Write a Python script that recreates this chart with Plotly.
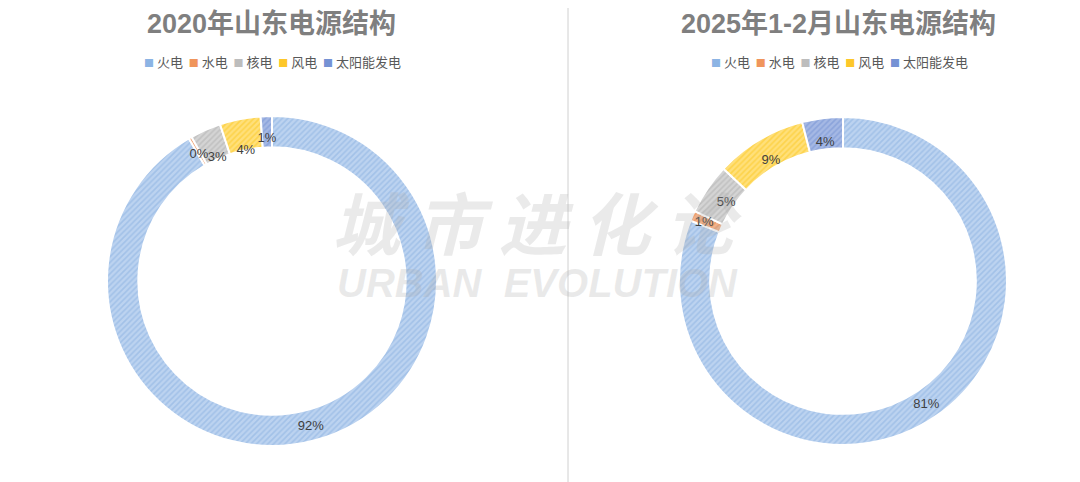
import plotly.graph_objects as go

labels = ["火电", "水电", "核电", "风电", "太阳能发电"]
values_2020 = [91.6, 0.3, 3.0, 4.0, 1.1]
values_2025 = [81, 1, 5, 9, 4]
titles = ["2020年山东电源结构", "2025年1-2月山东电源结构"]

bg_colors = ["#bcd3f0", "#f3b28a", "#d4d4d4", "#ffe07a", "#a5b8e4"]
fg_colors = ["#88afe0", "#e8884c", "#adadad", "#fbc51c", "#7290d2"]
legend_colors = ["#8cb4e4", "#f0955c", "#bdbdbd", "#fdc72a", "#7592d4"]

W, H, OFF = 1072, 474, 8


def px(X):
    return (X - OFF) / W


def py(Y):
    return 1 - (Y - OFF) / H


fig = go.Figure()


def dom(cx, cy, r):
    return dict(x=[px(cx - r), px(cx + r)], y=[py(cy + r), py(cy - r)])


def add_pie(vals, cx, cy, r, k):
    tf = dict(size=13, color="#404040", family="Liberation Sans, Arial")
    # ring with the label of the largest slice
    fig.add_trace(go.Pie(
        labels=labels, values=vals, sort=False, direction="clockwise", rotation=0,
        hole=0.81, domain=dom(cx, cy, r),
        marker=dict(colors=bg_colors, line=dict(color="white", width=2),
                    pattern=dict(shape="/", fillmode="overlay", fgcolor=fg_colors,
                                 size=4, solidity=0.4)),
        texttemplate=["%{percent:.0%}"] + [""] * (len(vals) - 1), textposition="inside",
        insidetextorientation="horizontal", textfont=tf,
        showlegend=False, hoverinfo="label+percent",
    ))
    # transparent overlay carrying the labels of the small slices, on top of all slices
    fig.add_trace(go.Pie(
        labels=labels, values=vals, sort=False, direction="clockwise", rotation=0,
        hole=0.81, domain=dom(cx, cy, r * k),
        marker=dict(colors=["rgba(0,0,0,0)"] * len(vals), line=dict(width=0)),
        texttemplate=[""] + ["%{percent:.0%}"] * (len(vals) - 1), textposition="inside",
        insidetextorientation="horizontal", textfont=tf,
        showlegend=False, hoverinfo="skip",
    ))


add_pie(values_2020, 272, 281, 165, 0.9)
add_pie(values_2025, 843, 281, 164, 0.95)

fig.update_layout(
    width=W, height=H, paper_bgcolor="white", plot_bgcolor="white",
    margin=dict(l=0, r=0, t=0, b=0), showlegend=False,
    uniformtext=dict(mode="show", minsize=13),
)

for tx, xc in zip(titles, [271, 838]):
    fig.add_annotation(text="<b>" + tx + "</b>", x=px(xc), y=1, xref="paper", yref="paper",
                       showarrow=False, xanchor="center", yanchor="top", borderpad=0,
                       font=dict(size=27, color="#7f7f7f", family="Liberation Sans, Noto Sans CJK SC"))

# legends
leg_text = "&nbsp;&nbsp;".join(
    f"<span style='color:{c};font-size:10px'>■</span> {lab}" for c, lab in zip(legend_colors, labels))
for xc in [272, 839]:
    fig.add_annotation(text=leg_text, x=px(xc), y=py(62), xref="paper", yref="paper",
                       showarrow=False, xanchor="center", yanchor="middle",
                       font=dict(size=13, color="#595959", family="Noto Sans CJK SC"))

# watermark
fig.add_annotation(text="<b><i>城 市 进 化 论</i></b>", x=px(537), y=py(220),
                   xref="paper", yref="paper", showarrow=False,
                   font=dict(size=68, color="rgba(170,170,170,0.25)", family="Noto Sans CJK SC"))
fig.add_annotation(text="<b><i>URBAN  EVOLUTION</i></b>", x=px(537), y=py(283),
                   xref="paper", yref="paper", showarrow=False,
                   font=dict(size=40, color="rgba(170,170,170,0.25)", family="Liberation Sans, Arial"))

fig.add_shape(type="line", x0=px(568), x1=px(568), y0=0, y1=1, xref="paper", yref="paper",
              line=dict(color="#d0d0d0", width=1))

fig.write_html("out.html")
